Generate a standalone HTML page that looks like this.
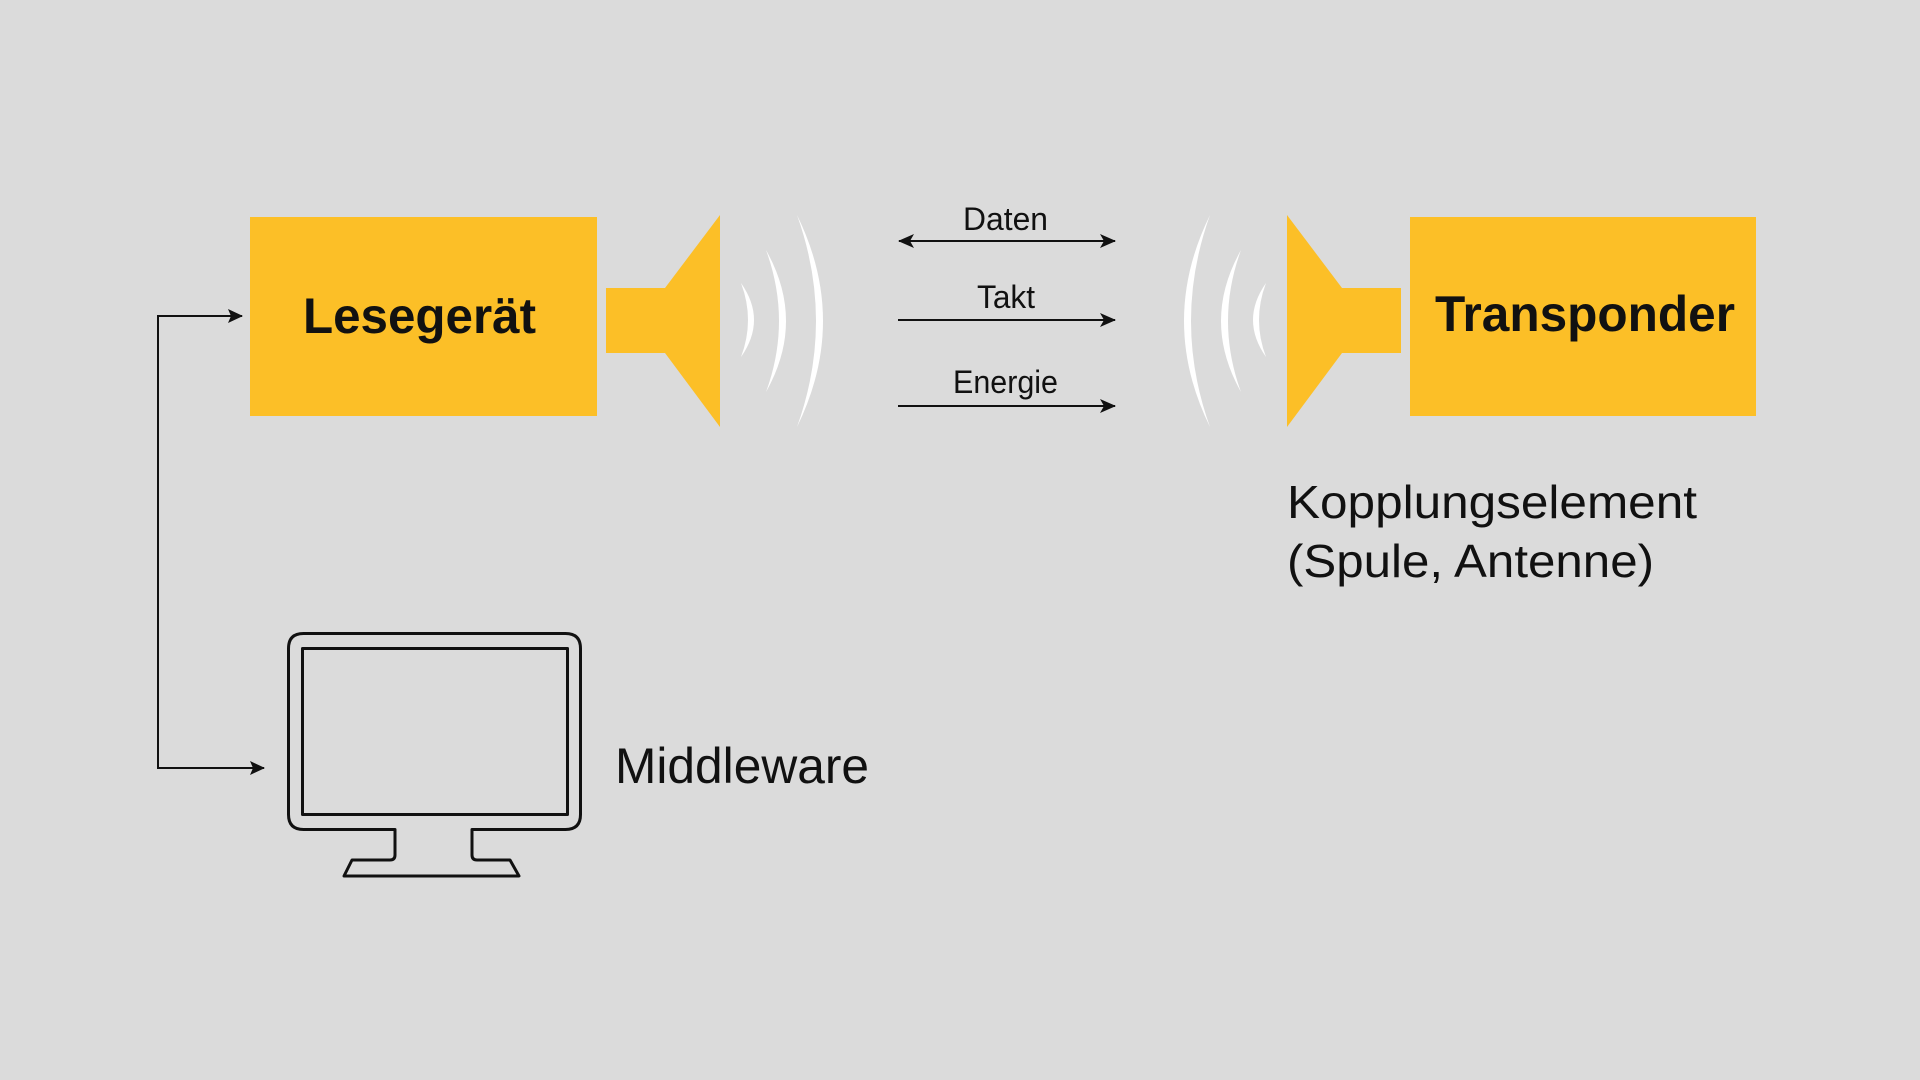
<!DOCTYPE html>
<html>
<head>
<meta charset="utf-8">
<style>
  html, body { margin:0; padding:0; background:#dbdbdb; }
  body { width:1920px; height:1080px; overflow:hidden; }
  svg { display:block; }
  text { font-family: "Liberation Sans", "DejaVu Sans", sans-serif; fill:#111; }
</style>
</head>
<body>
<svg width="1920" height="1080" viewBox="0 0 1920 1080" xmlns="http://www.w3.org/2000/svg">
  <defs>
    <marker id="ah" viewBox="0 0 16 14" refX="15" refY="7" markerWidth="16" markerHeight="14" markerUnits="userSpaceOnUse" orient="auto-start-reverse">
      <path d="M0,0 L16,7 L0,14 L4,7 Z" fill="#111"/>
    </marker>
  </defs>
  <rect width="1920" height="1080" fill="#dbdbdb"/>

  <!-- Lesegerät box -->
  <rect x="250" y="217" width="347" height="199" fill="#fcbf27"/>
  <text x="303" y="333" font-size="50" font-weight="bold" textLength="233" lengthAdjust="spacingAndGlyphs">Lesegerät</text>

  <!-- left speaker -->
  <rect x="606" y="288" width="60" height="65" fill="#fcbf27"/>
  <polygon points="665,288 720,215 720,427 665,353" fill="#fcbf27"/>

  <!-- left waves -->
  <g fill="#ffffff">
    <path d="M741,283 Q767,320 741,357 Q755,320 741,283 Z"/>
    <path d="M766,250 Q806,321 766,392 Q792,321 766,250 Z"/>
    <path d="M797,215 Q849,321 797,427 Q835,321 797,215 Z"/>
  </g>

  <!-- right waves (mirrored) -->
  <g fill="#ffffff">
    <path d="M1266,283 Q1240,320 1266,357 Q1252,320 1266,283 Z"/>
    <path d="M1241,250 Q1201,321 1241,392 Q1215,321 1241,250 Z"/>
    <path d="M1210,215 Q1158,321 1210,427 Q1172,321 1210,215 Z"/>
  </g>

  <!-- right speaker -->
  <polygon points="1342,288 1287,215 1287,427 1342,353" fill="#fcbf27"/>
  <rect x="1341" y="288" width="60" height="65" fill="#fcbf27"/>

  <!-- Transponder box -->
  <rect x="1410" y="217" width="346" height="199" fill="#fcbf27"/>
  <text x="1435" y="331" font-size="50" font-weight="bold" textLength="300" lengthAdjust="spacingAndGlyphs">Transponder</text>

  <!-- middle arrows -->
  <g stroke="#111" stroke-width="2" fill="none">
    <line x1="899" y1="241" x2="1115" y2="241" marker-start="url(#ah)" marker-end="url(#ah)"/>
    <line x1="898" y1="320" x2="1115" y2="320" marker-end="url(#ah)"/>
    <line x1="898" y1="406" x2="1115" y2="406" marker-end="url(#ah)"/>
  </g>
  <text x="963" y="230" font-size="32" textLength="85" lengthAdjust="spacingAndGlyphs">Daten</text>
  <text x="977" y="308" font-size="32" textLength="58" lengthAdjust="spacingAndGlyphs">Takt</text>
  <text x="953" y="393" font-size="32" textLength="105" lengthAdjust="spacingAndGlyphs">Energie</text>

  <!-- Kopplungselement label -->
  <text x="1287" y="518" font-size="46" textLength="410" lengthAdjust="spacingAndGlyphs">Kopplungselement</text>
  <text x="1287" y="577" font-size="46" textLength="367" lengthAdjust="spacingAndGlyphs">(Spule, Antenne)</text>

  <!-- left connector -->
  <g stroke="#111" stroke-width="2" fill="none">
    <polyline points="242,316 158,316 158,768 264,768"/>
  </g>
  <path d="M243,316 L228,309 L231,316 L228,323 Z" fill="#111"/>
  <path d="M265,768 L250,761 L253,768 L250,775 Z" fill="#111"/>

  <!-- monitor -->
  <g stroke="#111" stroke-width="3" fill="none" stroke-linejoin="round">
    <path d="M303.5,633.5 H565.5 Q580.5,633.5 580.5,648.5 V814.5 Q580.5,829.5 565.5,829.5 H472 V855 Q472,860 477,860 H510 L519,876 H344 L352,860 H390 Q395,860 395,855 V829.5 H303.5 Q288.5,829.5 288.5,814.5 V648.5 Q288.5,633.5 303.5,633.5 Z"/>
    <rect x="302.5" y="648.5" width="265" height="166"/>
  </g>

  <text x="615" y="783" font-size="50" textLength="254" lengthAdjust="spacingAndGlyphs">Middleware</text>
</svg>
</body>
</html>
